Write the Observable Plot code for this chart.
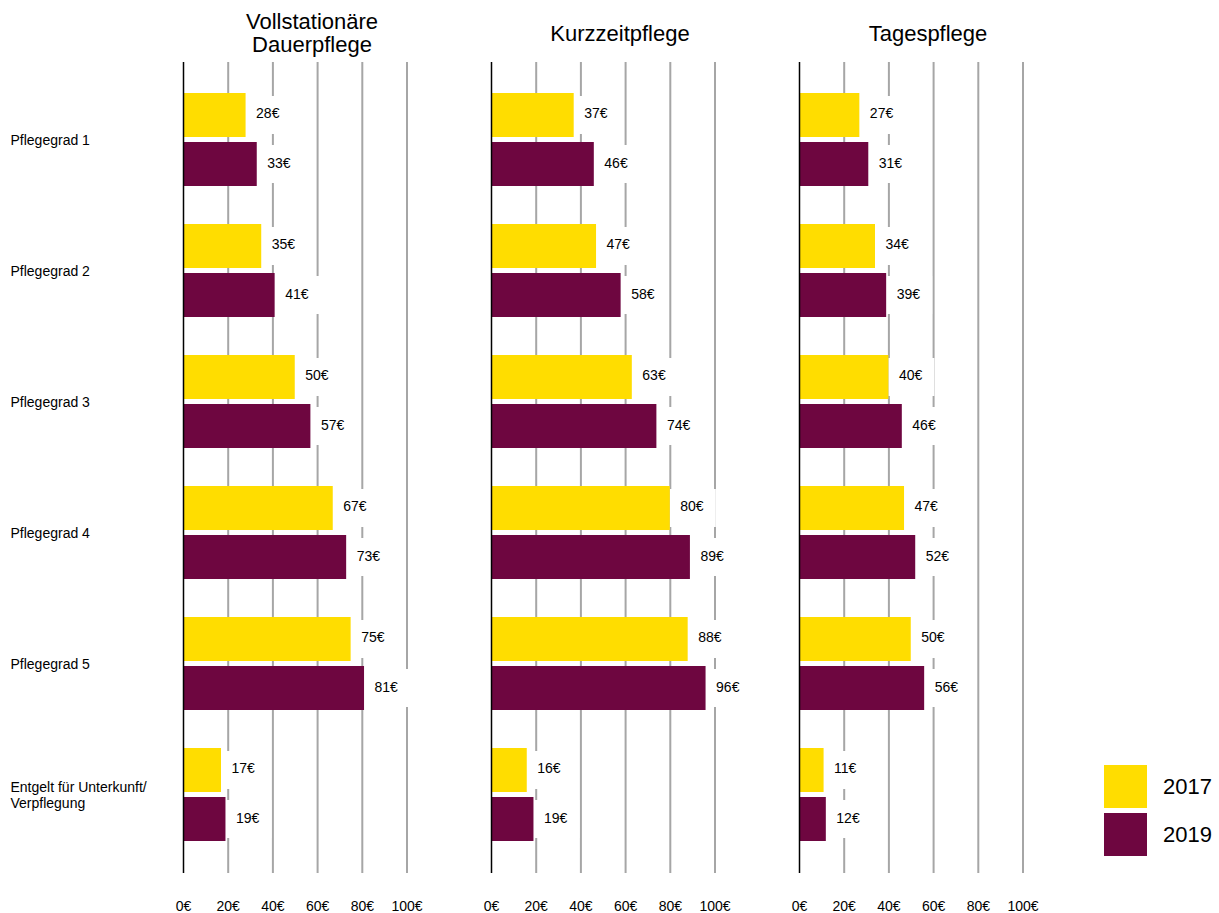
<!DOCTYPE html>
<html>
<head>
<meta charset="utf-8">
<script src="https://cdn.jsdelivr.net/npm/d3@7"></script>
<script src="https://cdn.jsdelivr.net/npm/@observablehq/plot@0.6"></script>
<style>
  html, body { margin: 0; padding: 0; background: white; }
  #wrap { position: relative; width: 1219px; height: 913px; font-family: "Liberation Sans", Arial, sans-serif; }
  #legend { position: absolute; left: 1104px; top: 765px; }
  .sw { display: flex; align-items: center; margin-bottom: 5px; }
  .sw span.box { display: inline-block; width: 43px; height: 43px; margin-right: 16px; }
  .sw span.lab { font-size: 22px; color: #000; }
</style>
</head>
<body>
<div id="wrap">
  <div id="chart"></div>
  <div id="legend"></div>
</div>
<script>
// Panels (facet columns)
const panels = ["Vollstationäre\nDauerpflege", "Kurzzeitpflege", "Tagespflege"];
// Categories (rows)
const groups = ["Pflegegrad 1", "Pflegegrad 2", "Pflegegrad 3", "Pflegegrad 4", "Pflegegrad 5", "Entgelt für Unterkunft/\nVerpflegung"];
// Years
const years = ["2017", "2019"];
const yearColors = ["#FFDD00", "#6E0640"];
// Values per panel, 2017
const dauer2017 = [28, 35, 50, 67, 75, 17];
const kurz2017  = [37, 47, 63, 80, 88, 16];
const tages2017 = [27, 34, 40, 47, 50, 11];
// Values per panel, 2019
const dauer2019 = [33, 41, 57, 73, 81, 19];
const kurz2019  = [46, 58, 74, 89, 96, 19];
const tages2019 = [31, 39, 46, 52, 56, 12];
// Axis ticks
const xTicks = [0, 20, 40, 60, 80, 100];

const v2017 = [dauer2017, kurz2017, tages2017];
const v2019 = [dauer2019, kurz2019, tages2019];
function build(vals, year) {
  const out = [];
  panels.forEach((p, pi) => groups.forEach((g, gi) => out.push({panel: p, group: g, year, value: vals[pi][gi]})));
  return out;
}
const d17 = build(v2017, years[0]);
const d19 = build(v2019, years[1]);

const chart = Plot.plot({
  width: 1219,
  height: 913,
  marginTop: 62,
  marginBottom: 40,
  marginLeft: 183,
  marginRight: 163,
  style: {fontFamily: "'Liberation Sans', Arial, sans-serif", fontSize: "14px", color: "#000", background: "white"},
  fx: {domain: panels, paddingInner: 0.1656, paddingOuter: 0, axis: null},
  x: {domain: [0, 100], insetRight: 33.5, ticks: xTicks, tickFormat: d => d + "€", tickSize: 0, tickPadding: 28, label: null},
  y: {domain: groups, paddingInner: 0.29, paddingOuter: 0.145, insetTop: 12, insetBottom: 13, axis: null},
  marks: [
    Plot.ruleX(xTicks.slice(1), {stroke: "#a6a6a6", strokeWidth: 2}),
    Plot.barX(d17, {fx: "panel", y: "group", x1: "value", x2: "value", fill: "white", insetRight: -46, insetTop: 3, insetBottom: 52}),
    Plot.barX(d19, {fx: "panel", y: "group", x1: "value", x2: "value", fill: "white", insetRight: -46, insetTop: 52, insetBottom: 3}),
    Plot.barX(d17, {fx: "panel", y: "group", x: "value", fill: yearColors[0], insetBottom: 49}),
    Plot.barX(d19, {fx: "panel", y: "group", x: "value", fill: yearColors[1], insetTop: 49}),
    Plot.ruleX([0], {stroke: "#000", strokeWidth: 1.5}),
    Plot.text(d17, {fx: "panel", y: "group", x: "value", text: d => d.value + "€", dx: 10, dy: -26, textAnchor: "start", fontSize: 14}),
    Plot.text(d19, {fx: "panel", y: "group", x: "value", text: d => d.value + "€", dx: 10, dy: 23.5, textAnchor: "start", fontSize: 14}),
    Plot.text(panels, {fx: d => d, text: d => d, frameAnchor: "top", dy: -29, lineAnchor: "middle", fontSize: 22, lineHeight: 1.05}),
    Plot.text(groups, {fx: () => panels[0], y: d => d, text: d => d, frameAnchor: "left", dx: -173, textAnchor: "start", fontSize: 14, lineHeight: 1.15})
  ]
});
document.getElementById("chart").appendChild(chart);

const legend = document.getElementById("legend");
years.forEach((y, i) => {
  const row = document.createElement("div");
  row.className = "sw";
  row.innerHTML = `<span class="box" style="background:${yearColors[i]}"></span><span class="lab">${y}</span>`;
  legend.appendChild(row);
});
</script>
</body>
</html>
